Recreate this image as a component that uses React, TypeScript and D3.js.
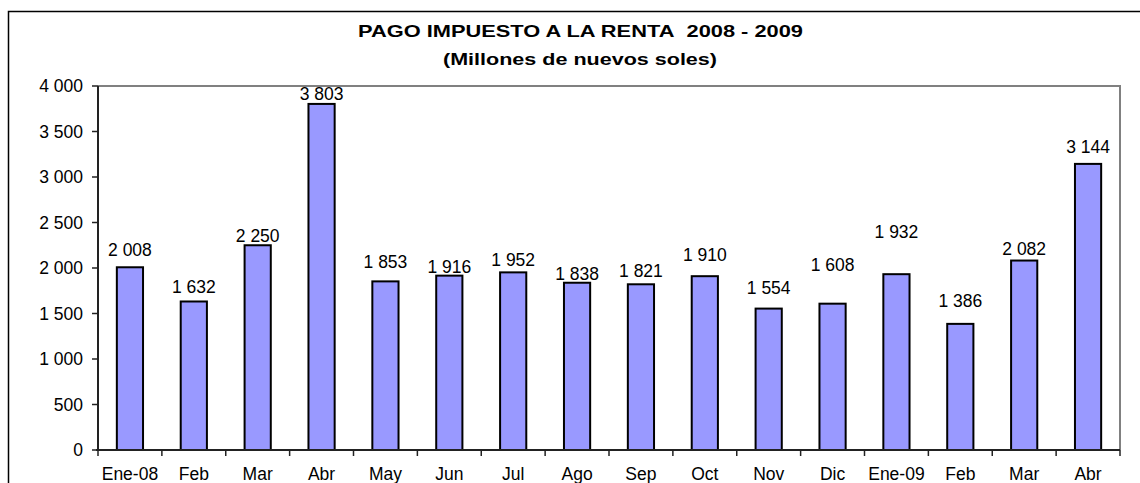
import { useEffect, useRef } from "react";
import * as d3 from "d3";

// Monthly income-tax payments (millions of nuevos soles)
const months = ["Ene-08", "Feb", "Mar", "Abr", "May", "Jun", "Jul", "Ago", "Sep", "Oct", "Nov", "Dic", "Ene-09", "Feb", "Mar", "Abr"];
const payments = [2008, 1632, 2250, 3803, 1853, 1916, 1952, 1838, 1821, 1910, 1554, 1608, 1932, 1386, 2082, 3144];
const yTicks = [0, 500, 1000, 1500, 2000, 2500, 3000, 3500, 4000];
// gap (px) between bar top and label baseline, as placed in the original
const labelGap = [11, 8, 3, 4, 13, 3, 6, 3, 7, 15, 15, 33, 36, 17, 6, 11];

export default function App() {
  const ref = useRef<SVGSVGElement>(null);

  useEffect(() => {
    const left = 98;
    const right = 1120;
    const top = 86;
    const bottom = 450;
    const font = "Arial, 'Liberation Sans', sans-serif";
    const fs = 17.5;

    const svg = d3.select(ref.current);
    svg.selectAll("*").remove();

    const fmt = d3.formatLocale({ decimal: ",", thousands: "\u00a0", grouping: [3], currency: ["", ""] }).format(",");

    const x = d3.scaleBand<number>()
      .domain(months.map((_, i) => i))
      .range([left, right])
      .paddingInner(0.59)
      .paddingOuter(0.295);
    const step = x.step();
    const y = d3.scaleLinear([0, 4000], [bottom, top]);

    // outer chart frame
    svg.append("rect")
      .attr("x", 8.5).attr("y", 11.5)
      .attr("width", 1200).attr("height", 600)
      .attr("fill", "white")
      .attr("stroke", "black")
      .attr("stroke-width", 1.5);

    // title (the original is stretched horizontally)
    svg.append("text")
      .attr("x", 358).attr("y", 37)
      .attr("textLength", 445)
      .attr("lengthAdjust", "spacingAndGlyphs")
      .attr("font-family", font)
      .attr("font-weight", "bold")
      .attr("font-size", 16.5)
      .attr("fill", "black")
      .text("PAGO IMPUESTO A LA RENTA\u00a0 2008 - 2009");
    svg.append("text")
      .attr("x", 443).attr("y", 65)
      .attr("textLength", 274)
      .attr("lengthAdjust", "spacingAndGlyphs")
      .attr("font-family", font)
      .attr("font-weight", "bold")
      .attr("font-size", 16.5)
      .attr("fill", "black")
      .text("(Millones de nuevos soles)");

    // plot area border (top / right in gray)
    svg.append("path")
      .attr("d", `M${left},${top}H${right}V${bottom}`)
      .attr("fill", "none")
      .attr("stroke", "#808080")
      .attr("stroke-width", 2);

    // bars
    svg.append("g")
      .selectAll("rect")
      .data(payments)
      .join("rect")
      .attr("x", (_, i) => x(i)!)
      .attr("y", d => y(d))
      .attr("width", x.bandwidth())
      .attr("height", d => y(0) - y(d))
      .attr("fill", "#9999FF")
      .attr("stroke", "black")
      .attr("stroke-width", 2);

    // value labels
    svg.append("g")
      .selectAll("text")
      .data(payments)
      .join("text")
      .attr("x", (_, i) => x(i)! + x.bandwidth() / 2)
      .attr("y", (d, i) => y(d) - labelGap[i])
      .attr("text-anchor", "middle")
      .attr("font-family", font)
      .attr("font-size", fs)
      .attr("fill", "black")
      .text(d => fmt(d));

    // y axis
    const yAxis = svg.append("g");
    yAxis.append("line")
      .attr("x1", left).attr("x2", left)
      .attr("y1", top).attr("y2", bottom)
      .attr("stroke", "#222").attr("stroke-width", 2);
    yAxis.selectAll("line.tick")
      .data(yTicks)
      .join("line")
      .attr("class", "tick")
      .attr("x1", left - 6).attr("x2", left)
      .attr("y1", d => y(d)).attr("y2", d => y(d))
      .attr("stroke", "#222").attr("stroke-width", 1.5);
    yAxis.selectAll("text")
      .data(yTicks)
      .join("text")
      .attr("x", left - 15)
      .attr("y", d => y(d))
      .attr("dy", "0.36em")
      .attr("text-anchor", "end")
      .attr("font-family", font)
      .attr("font-size", fs)
      .attr("fill", "black")
      .text(d => fmt(d));

    // x axis
    const xAxis = svg.append("g");
    xAxis.append("line")
      .attr("x1", left - 2).attr("x2", right)
      .attr("y1", bottom).attr("y2", bottom)
      .attr("stroke", "#222").attr("stroke-width", 2);
    xAxis.selectAll("line.tick")
      .data(d3.range(months.length + 1))
      .join("line")
      .attr("class", "tick")
      .attr("x1", i => left + i * step).attr("x2", i => left + i * step)
      .attr("y1", bottom).attr("y2", bottom + 6)
      .attr("stroke", "#222").attr("stroke-width", 1.5);
    xAxis.selectAll("text")
      .data(months)
      .join("text")
      .attr("x", (_, i) => x(i)! + x.bandwidth() / 2)
      .attr("y", 480)
      .attr("text-anchor", "middle")
      .attr("font-family", font)
      .attr("font-size", fs)
      .attr("fill", "black")
      .text(d => d);
  }, []);

  return (
    <svg
      ref={ref}
      width={1140}
      height={483}
      viewBox="0 0 1140 483"
      style={{ position: "absolute", left: 0, top: 0, background: "white" }}
    />
  );
}
